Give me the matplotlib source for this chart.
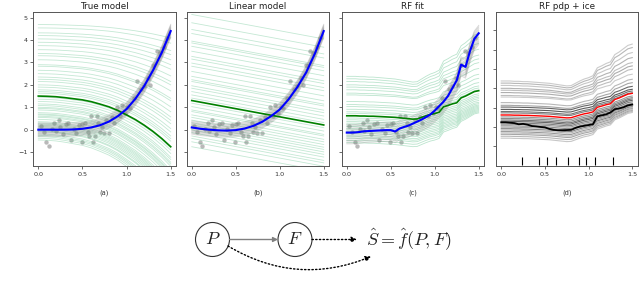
import numpy as np
import matplotlib.pyplot as plt
from matplotlib.patches import Circle

# x grids the curves are read on
x10 = [0.0, 0.1, 0.2, 0.3, 0.4, 0.5, 0.6, 0.7, 0.8, 0.9, 1.0, 1.1, 1.2, 1.3, 1.4, 1.5]
x05 = [0.0, 0.05, 0.1, 0.15, 0.2, 0.25, 0.3, 0.35, 0.4, 0.45, 0.5, 0.55, 0.6, 0.65, 0.7, 0.75,
       0.8, 0.85, 0.9, 0.95, 1.0, 1.05, 1.1, 1.15, 1.2, 1.25, 1.3, 1.35, 1.4, 1.45, 1.5]

# data points (same in a, b, c)
pts_x = [0.03, 0.06, 0.09, 0.12, 0.15, 0.18, 0.2, 0.23, 0.25, 0.28, 0.31, 0.34, 0.37, 0.4, 0.43,
         0.46, 0.49, 0.5, 0.53, 0.56, 0.58, 0.6, 0.62, 0.64, 0.66, 0.68, 0.7, 0.72, 0.74, 0.77,
         0.8, 0.83, 0.86, 0.89, 0.92, 0.95, 0.98, 1.01, 1.04, 1.08, 1.12, 1.16, 1.2, 1.24, 1.27,
         1.3, 1.34, 1.38, 1.42, 1.46]
pts_y = [0.15, -0.1, -0.54, -0.72, 0.05, 0.3, -0.05, 0.43, 0.1, -0.2, 0.25, 0.28, -0.46, 0.05,
         -0.15, 0.2, -0.54, 0.25, 0.28, -0.1, -0.3, 0.61, -0.54, -0.28, 0.61, 0.3, -0.09, 0.1,
         -0.16, 0.45, -0.16, 0.55, 0.3, 1.03, 0.6, 1.1, 0.75, 1.0, 0.95, 1.4, 2.15, 1.8, 1.95,
         2.3, 2.0, 2.9, 3.5, 3.4, 3.7, 4.1]

# (a) true model
a_true = [0.0, 0.0, 0.0, 0.0, 0.01, 0.04, 0.1, 0.2, 0.36, 0.6, 0.92, 1.38, 1.95, 2.65, 3.45, 4.4]
a_mean = [1.50, 1.49, 1.47, 1.43, 1.38, 1.33, 1.25, 1.14, 1.02, 0.86, 0.66, 0.45, 0.2, -0.08, -0.40, -0.76]
a_ice_start = [4.69, 4.54, 4.32, 4.2, 4.05, 3.9, 3.75, 3.57, 3.4, 3.3, 3.12, 2.9, 2.83, 2.65, 2.5,
               2.35, 2.25, 2.15, 2.0, 1.9, 1.78, 1.7, 1.63, 1.45, 1.36, 1.26, 1.15, 1.08, 1.0, 0.95,
               0.88, 0.76, 0.7, 0.66, 0.6, 0.55, 0.46, 0.36, 0.3, 0.25, 0.2, 0.14, 0.08, 0.02,
               -0.05, -0.09, -0.19, -0.25, -0.31, -0.38, -0.46]
a_ice_end = [4.09, 3.86, 3.53, 3.35, 3.12, 2.9, 2.7, 2.4, 2.15, 2.0, 1.73, 1.4, 1.29, 1.02, 0.8,
             0.57, 0.42, 0.27, 0.05, -0.1, -0.28, -0.4, -0.51, -0.8, -0.91, -1.06, -1.23, -1.33,
             -1.45, -1.53, -1.63, -1.81, -1.9, -1.96, -2.05, -2.13, -2.26, -2.41, -2.5, -2.58,
             -2.66, -2.74, -2.83, -2.92, -3.03, -3.09, -3.24, -3.33, -3.41, -3.52, -3.64]

# (b) linear model
b_fit = [0.1, 0.04, 0.0, -0.03, -0.04, -0.02, 0.05, 0.17, 0.35, 0.6, 0.9, 1.35, 1.9, 2.55, 3.4, 4.4]
b_mean_x = [0.0, 1.5]
b_mean = [1.3, 0.21]
b_ice_start = [5.14, 4.77, 4.47, 4.29, 3.95, 3.87, 3.72, 3.5, 3.27, 3.15, 2.97, 2.83, 2.6, 2.38,
               2.23, 2.15, 1.96, 1.85, 1.7, 1.55, 1.41, 1.18, 1.03, 0.88, 0.81, 0.66, 0.55, 0.43,
               0.31, 0.21, 0.1, -0.01, -0.13, -0.28, -0.39, -0.54, -0.76]

# (c) random forest
c_fit = [-0.13, -0.13, -0.12, -0.1, -0.07, -0.06, -0.05, -0.04, -0.03, -0.02, -0.02, -0.08, 0.05,
         0.12, 0.18, 0.27, 0.36, 0.45, 0.56, 0.68, 0.85, 1.05, 1.25, 1.5, 1.85, 2.2, 2.9, 2.8,
         3.5, 4.05, 4.3]
c_mean = [0.62, 0.62, 0.62, 0.61, 0.61, 0.60, 0.60, 0.59, 0.58, 0.57, 0.56, 0.55, 0.53, 0.51,
          0.49, 0.47, 0.48, 0.55, 0.62, 0.68, 0.72, 0.78, 1.02, 1.08, 1.15, 1.2, 1.42, 1.5, 1.6,
          1.7, 1.74]
c_ice_start = [2.38, 2.27, 2.15, 2.0, 1.9, 1.78, 1.63, 1.55, 1.26, 1.12, 1.03, 0.91, 0.8, 0.73,
               0.52, 0.44, 0.36, 0.29, 0.21, 0.14, 0.06, -0.01, -0.09, -0.16, -0.24, -0.31,
               -0.38, -0.48, -0.58]
c_ice_end = [4.29, 4.11, 3.85, 3.59, 3.33, 3.16, 2.99, 2.73, 2.47, 2.29, 2.1, 1.95, 1.86, 1.77,
             1.6, 1.52, 1.45, 1.38, 1.3, 1.22, 1.16, 1.1, 1.05, 1.0, 0.95, 0.9, 0.85, 0.8, 0.75]

# (d) pdp + ice: same ice curves in grey, one highlighted curve, rug of x
d_gray = ['0.8', '0.72', '0.78', '0.7', '0.75', '0.68', '0.74', '0.8', '0.72', '0.65', '0.4',
          '0.35', '0.45', '0.5', '0.6', '0.55', '0.45', '0.4', '0.5', '0.6', '0.55', '0.65',
          '0.5', '0.7', '0.6', '0.75', '0.65', '0.72', '0.78']
d_black = [0.24, 0.24, 0.22, 0.2, 0.14, 0.16, 0.12, 0.05, 0.03, 0.0, -0.02, -0.1, -0.15, -0.17,
           -0.17, -0.16, -0.15, -0.05, 0.02, 0.06, 0.1, 0.14, 0.55, 0.6, 0.65, 0.75, 0.92, 0.96,
           1.02, 1.12, 1.16]
rug_x = [0.233, 0.433, 0.528, 0.631, 0.761, 0.887, 0.976, 1.079, 1.278]

# bootstrap band offsets around fitted curves
band_off = [-0.3, -0.26, -0.22, -0.18, -0.15, -0.12, -0.09, -0.06, -0.03, 0.0, 0.03, 0.06, 0.09,
            0.12, 0.15, 0.18, 0.22, 0.26, 0.3]
c_band_off = [-0.5, -0.42, -0.35, -0.28, -0.2, -0.12, -0.05, 0.05, 0.12, 0.2, 0.28, 0.35]

plt.rcParams['font.family'] = 'DejaVu Sans'
fig = plt.figure(figsize=(6.4, 2.9), dpi=100)
W, H = 640.0, 290.0


def add_panel(left, right):
    return fig.add_axes([left / W, 1 - 166 / H, (right - left) / W, 154 / H])


ax_a = add_panel(33, 176)
ax_b = add_panel(186.5, 329)
ax_c = add_panel(341.5, 484)
ax_d = add_panel(496, 637.5)

ice_col = 'mediumseagreen'
x10a = np.array(x10)
x05a = np.array(x05)

# (a)
prof_a = (a_mean[0] - np.array(a_mean)) / (a_mean[0] - a_mean[-1])
for s, e in zip(a_ice_start, a_ice_end):
    ax_a.plot(x10a, s + (e - s) * prof_a, color=ice_col, lw=0.6, alpha=0.3)
for o in band_off:
    ax_a.plot(x10a, np.array(a_true) + o, color='gray', lw=0.7, alpha=0.25)
ax_a.scatter(pts_x, pts_y, s=10, color='gray', alpha=0.55, lw=0)
ax_a.plot(x10, a_mean, color='green', lw=1.2)
ax_a.plot(x10, a_true, color='blue', lw=1.5)

# (b)
for s in b_ice_start:
    ax_b.plot(b_mean_x, np.array(b_mean) - b_mean[0] + s, color=ice_col, lw=0.6, alpha=0.3)
for o in band_off:
    ax_b.plot(x10a, np.array(b_fit) + o, color='gray', lw=0.7, alpha=0.25)
ax_b.scatter(pts_x, pts_y, s=10, color='gray', alpha=0.55, lw=0)
ax_b.plot(b_mean_x, b_mean, color='green', lw=1.2)
ax_b.plot(x10, b_fit, color='blue', lw=1.5)

# (c)
prof_c = (np.array(c_mean) - c_mean[0]) / (c_mean[-1] - c_mean[0])
for s, e in zip(c_ice_start, c_ice_end):
    ax_c.plot(x05a, s + (e - s) * prof_c, color=ice_col, lw=0.6, alpha=0.35)
for o in c_band_off:
    ax_c.plot(x05a, np.array(c_fit) + o, color='gray', lw=0.7, alpha=0.3)
ax_c.scatter(pts_x, pts_y, s=10, color='gray', alpha=0.55, lw=0)
ax_c.plot(x05, c_mean, color='green', lw=1.2)
ax_c.plot(x05, c_fit, color='blue', lw=1.5)

# (d)
for s, e, g in zip(c_ice_start, c_ice_end, d_gray):
    ax_d.plot(x05a, s + (e - s) * prof_c, color=g, lw=0.8)
ax_d.plot(x05, d_black, color='black', lw=1.3)
ax_d.plot(x05, c_mean, color='red', lw=1.0)
ax_d.vlines(rug_x, 0.005, 0.058, transform=ax_d.get_xaxis_transform(), color='black', lw=0.8)

titles = ['True model', 'Linear model', 'RF fit', 'RF pdp + ice']
letters = ['(a)', '(b)', '(c)', '(d)']
for ax, t, lab in zip([ax_a, ax_b, ax_c, ax_d], titles, letters):
    ax.set_xlim(-0.06, 1.56)
    ax.set_xticks([0, 0.5, 1.0, 1.5])
    ax.set_xticklabels(['0.0', '0.5', '1.0', '1.5'])
    ax.set_yticks([-1, 0, 1, 2, 3, 4, 5])
    ax.tick_params(labelsize=4.6, length=2.5, width=0.5, pad=1.5, colors='#333333')
    for sp in ax.spines.values():
        sp.set_linewidth(0.7)
        sp.set_color('#555555')
    ax.set_title(t, fontsize=6.3, pad=2.5, color='#222222')
    pos = ax.get_position()
    fig.text(pos.x0 + pos.width / 2, 1 - 193 / H, lab, fontsize=4.8, ha='center', va='center',
             color='#333333')

for ax in [ax_a, ax_b, ax_c]:
    ax.set_ylim(-1.62, 5.25)
for ax in [ax_b, ax_c, ax_d]:
    ax.set_yticklabels([])
ax_d.set_ylim(-2.02, 5.95)

# causal diagram underneath, drawn in pixel coordinates
dg = fig.add_axes([0, 0, 1, 1], zorder=-1)
dg.set_xlim(0, W)
dg.set_ylim(H, 0)
dg.axis('off')
p_pos = (212.5, 239.5)
f_pos = (295.0, 239.5)
rad = 17
for (cx, cy), name in [(p_pos, 'P'), (f_pos, 'F')]:
    dg.add_patch(Circle((cx, cy), rad, fill=False, ec='#333333', lw=0.8))
    dg.text(cx, cy, '$' + name + '$', fontsize=13, ha='center', va='center',
            math_fontfamily='cm', color='#222222')
dg.text(366, 239.5, r'$\hat{S} = \hat{f}(P,F)$', fontsize=13, ha='left', va='center',
        math_fontfamily='cm', color='#222222')
dg.annotate('', xy=(f_pos[0] - rad, f_pos[1]), xytext=(p_pos[0] + rad, p_pos[1]),
            arrowprops=dict(arrowstyle='-|>', color='gray', lw=1.0, mutation_scale=7,
                            shrinkA=0, shrinkB=0))
dg.annotate('', xy=(357, 239.5), xytext=(f_pos[0] + rad, f_pos[1]),
            arrowprops=dict(arrowstyle='-|>', color='black', lw=1.0, ls=':', mutation_scale=8,
                            shrinkA=0, shrinkB=0))
dg.annotate('', xy=(371, 256.5), xytext=(228, 246),
            arrowprops=dict(arrowstyle='-|>', color='black', lw=1.0, ls=':', mutation_scale=8,
                            shrinkA=0, shrinkB=0, connectionstyle='arc3,rad=0.25'))

fig.savefig('out.png', dpi=100)
